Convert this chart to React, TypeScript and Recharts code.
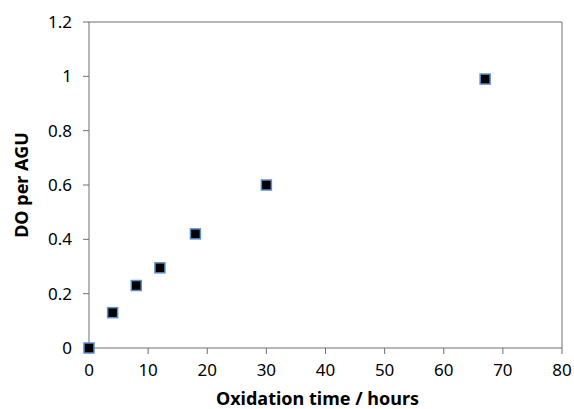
import {
  ScatterChart,
  Scatter,
  XAxis,
  YAxis,
  ReferenceLine,
} from "recharts";

const hours = [0, 4, 8, 12, 18, 30, 67];
const doPerAgu = [0, 0.13, 0.23, 0.295, 0.42, 0.6, 0.99];
const xTicks = [0, 10, 20, 30, 40, 50, 60, 70, 80];
const yTicks = [0, 0.2, 0.4, 0.6, 0.8, 1, 1.2];

const data = hours.map((h, i) => ({ x: h, y: doPerAgu[i] }));

const axisColor = "#6f6f6f";
const tickStyle = { fontFamily: "Noto Sans", fontSize: 17, fill: "#000" };
const labelStyle = {
  fontFamily: "Noto Sans",
  fontSize: 18,
  fontWeight: 700,
  fill: "#000",
};

function SquareMark(props: any) {
  const { cx, cy } = props;
  return (
    <rect
      x={cx - 5}
      y={cy - 5}
      width={10}
      height={10}
      fill="#000"
      stroke="#5b8fd0"
      strokeWidth={1.5}
    />
  );
}

export default function App() {
  return (
    <div style={{ position: "absolute", left: 0, top: 0 }}>
      <ScatterChart
        width={574}
        height={409}
        margin={{ top: 22, right: 12, bottom: 0, left: 0 }}
      >
        <XAxis
          type="number"
          dataKey="x"
          domain={[0, 80]}
          ticks={xTicks}
          height={61}
          tickSize={6}
          tickMargin={10}
          stroke={axisColor}
          tick={tickStyle}
          label={{
            value: "Oxidation time / hours",
            position: "insideBottom",
            offset: 4,
            dx: -8,
            style: labelStyle,
          }}
        />
        <YAxis
          type="number"
          dataKey="y"
          domain={[0, 1.2]}
          ticks={yTicks}
          width={89}
          tickSize={6}
          tickMargin={11}
          stroke={axisColor}
          tick={tickStyle}
          label={{
            value: "DO per AGU",
            angle: -90,
            position: "insideLeft",
            offset: 22,
            style: { ...labelStyle, textAnchor: "middle" },
          }}
        />
        <ReferenceLine y={1.2} stroke={axisColor} />
        <ReferenceLine x={80} stroke={axisColor} />
        <Scatter data={data} shape={SquareMark} isAnimationActive={false} />
      </ScatterChart>
    </div>
  );
}
